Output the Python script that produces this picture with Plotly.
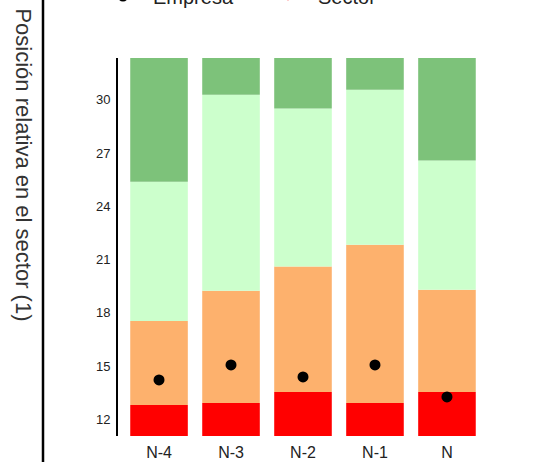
import plotly.graph_objects as go

categories = ["N-4", "N-3", "N-2", "N-1", "N"]
axis_min = 11.06
axis_max = 32.35
red_top = [12.81, 12.92, 13.54, 12.92, 13.54]
orange_top = [17.54, 19.24, 20.60, 21.83, 19.30]
lightgreen_top = [25.38, 30.28, 29.50, 30.56, 26.57]
darkgreen_top = [axis_max] * 5
empresa = [14.22, 15.06, 14.39, 15.06, 13.26]
sector = [None, None, None, None, None]
y_ticks = [12, 15, 18, 21, 24, 27, 30]

colors = ["#FF0000", "#FDB16D", "#CCFFCC", "#7DC27A"]
bounds = [[axis_min] * 5, red_top, orange_top, lightgreen_top, darkgreen_top]

fig = go.Figure()
for i in range(4):
    lower = bounds[i]
    upper = bounds[i + 1]
    fig.add_trace(go.Bar(
        x=categories, y=[u - l for u, l in zip(upper, lower)], base=lower,
        marker=dict(color=colors[i], line=dict(width=0)),
        width=0.8, showlegend=False, hoverinfo="skip"))

fig.add_trace(go.Scatter(x=categories, y=empresa, mode="markers", name="Empresa",
                         marker=dict(color="black", size=11, symbol="circle")))
fig.add_trace(go.Scatter(x=categories, y=sector, mode="markers", name="Sector",
                         marker=dict(color="red", size=7, symbol="asterisk-open",
                                     line=dict(color="red", width=1.5))))

fig.update_layout(
    width=535, height=462,
    margin=dict(l=118, r=47, t=58, b=26, autoexpand=False),
    paper_bgcolor="white", plot_bgcolor="white",
    barmode="overlay",
    font=dict(family="Liberation Sans, Arial, sans-serif", color="#222"),
    legend=dict(orientation="h", x=-0.0676, xanchor="left", y=1.164, yanchor="middle",
                font=dict(size=20, color="#222"), entrywidth=100, itemwidth=50,
                bgcolor="rgba(0,0,0,0)"),
    xaxis=dict(range=[-0.57, 4.57], showline=False, showgrid=False, zeroline=False,
               ticks="outside", ticklen=2, tickcolor="rgba(0,0,0,0)",
               tickfont=dict(size=16, color="#222")),
    yaxis=dict(range=[axis_min, axis_max], tickvals=y_ticks,
               ticktext=[str(v) for v in y_ticks],
               showline=True, linecolor="black", linewidth=2,
               showgrid=False, zeroline=False,
               ticks="outside", ticklen=3, tickcolor="rgba(0,0,0,0)",
               tickfont=dict(size=13, color="#222")),
    shapes=[dict(type="line", xref="paper", yref="paper",
                 x0=-0.2027, x1=-0.2027, y0=-0.2, y1=1.3,
                 line=dict(color="black", width=2.5))],
    annotations=[dict(text="Posición relativa en el sector (1)", textangle=90,
                      xref="paper", yref="paper", x=-0.258, y=0.717,
                      xanchor="center", yanchor="middle", showarrow=False,
                      font=dict(size=22, color="#333"))],
)

fig.write_html("out.html", config={"displayModeBar": False},
               post_script="document.body.style.margin='0px';document.body.style.overflow='hidden';")
